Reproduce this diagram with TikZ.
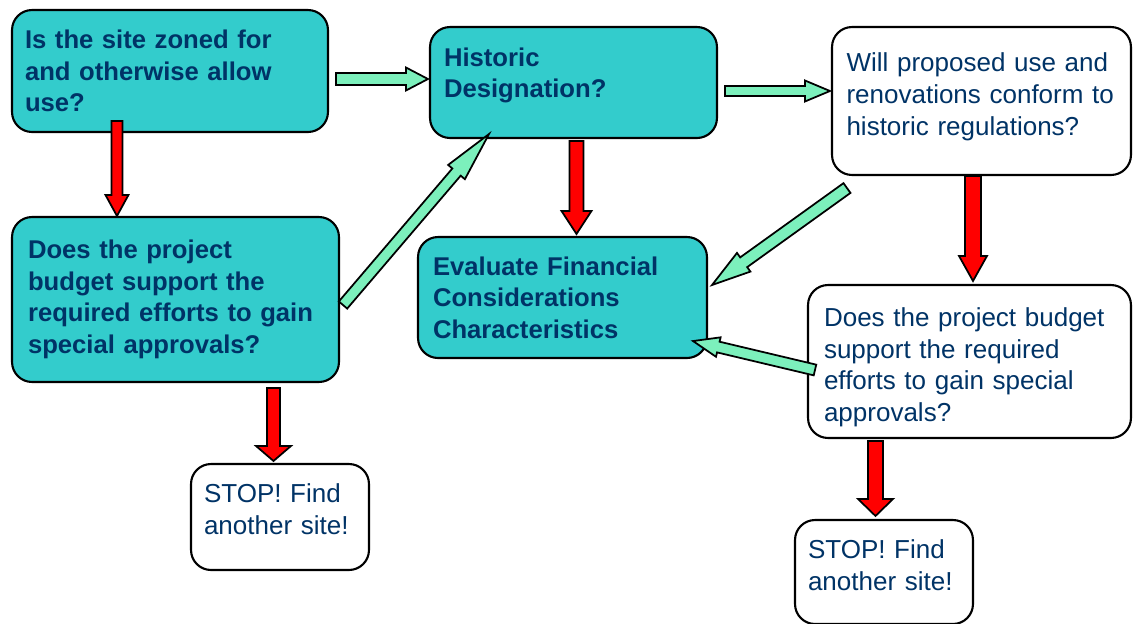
\documentclass[tikz,border=0pt]{standalone}
\usepackage{fontspec}
\setmainfont{Liberation Sans}
\usetikzlibrary{calc}

\definecolor{boxteal}{RGB}{51,204,204}
\definecolor{textblue}{RGB}{0,51,102}
\definecolor{arrowgreen}{RGB}{124,240,188}
\definecolor{arrowred}{RGB}{255,0,0}

% block arrow: fill, shaft half width, head half width, head length, from, to
\newcommand{\blockarrow}[6]{%
    \path #5 coordinate (ba-s) #6 coordinate (ba-e);
    \path ($(ba-e)!#4!(ba-s)$) coordinate (ba-h);
    \filldraw[fill=#1, draw=black, line width=1pt, line join=miter]
        ($(ba-s)!#2!90:(ba-e)$) -- ($(ba-h)!#2!90:(ba-e)$) -- ($(ba-h)!#3!90:(ba-e)$) -- (ba-e)
        -- ($(ba-h)!#3!-90:(ba-e)$) -- ($(ba-h)!#2!-90:(ba-e)$) -- ($(ba-s)!#2!-90:(ba-e)$) -- cycle;
}

\begin{document}
\begin{tikzpicture}[x=0.02cm, y=-0.02cm,
    box/.style={draw=black, line width=1.2pt, rounded corners=0.4cm, inner sep=0pt, align=left, text=textblue, font=\fontsize{14.8pt}{18pt}\selectfont},
    tealbox/.style={box, fill=boxteal, font=\fontsize{14.6pt}{18pt}\selectfont\bfseries},
    whitebox/.style={box, fill=white}]

    \useasboundingbox (0,0) rectangle (1133,623);

    % Boxes (pixel coordinates, y pointing down)
    \node[tealbox, minimum width=6.32cm, minimum height=2.44cm, text width=5.80cm] (zoned) at (170,71)
        {Is the site zoned for\\and otherwise allow\\use?};
    \node[tealbox, minimum width=5.74cm, minimum height=2.22cm, text width=5.18cm, text depth=29pt] (historic) at (573.5,82.5)
        {Historic\\Designation?};
    \node[whitebox, minimum width=5.98cm, minimum height=2.96cm, text width=5.40cm, text depth=44pt] (conform) at (981.5,101)
        {Will proposed use and\\renovations conform to\\historic regulations?};
    \node[tealbox, minimum width=6.54cm, minimum height=3.30cm, text width=5.90cm] (budget) at (175.5,299.5)
        {Does the project\\budget support the\\required efforts to gain\\special approvals?};
    \node[tealbox, minimum width=5.78cm, minimum height=2.42cm, text width=5.18cm] (financial) at (562.5,297.5)
        {Evaluate Financial\\Considerations\\Characteristics};
    \node[whitebox, minimum width=6.46cm, minimum height=3.06cm, text width=5.82cm, text height=17.3pt] (budgetb) at (969.5,361.5)
        {Does the project budget\\support the required\\efforts to gain special\\approvals?};
    \node[whitebox, minimum width=3.56cm, minimum height=2.12cm, text width=3.04cm, text depth=27pt] (stopa) at (280,517)
        {STOP! Find\\another site!};
    \node[whitebox, minimum width=3.56cm, minimum height=2.08cm, text width=3.04cm, text depth=26pt] (stopb) at (884,572)
        {STOP! Find\\another site!};

    % Green arrows (yes)
    \blockarrow{arrowgreen}{0.12cm}{0.23cm}{0.44cm}{($(zoned.east)+(7,8)$)}{($(historic.west)+(-1,-3.5)$)}
    \blockarrow{arrowgreen}{0.10cm}{0.21cm}{0.50cm}{($(historic.east)+(7,8.5)$)}{($(conform.west)+(-1,-10)$)}
    \blockarrow{arrowgreen}{0.11cm}{0.22cm}{1.00cm}{($(budget.east)+(3,5.5)$)}{($(historic.south west)+(60,-5)$)}
    \blockarrow{arrowgreen}{0.12cm}{0.23cm}{0.78cm}{($(conform.south west)+(16,12)$)}{($(financial.east)+(4,-12.5)$)}
    \blockarrow{arrowgreen}{0.11cm}{0.20cm}{0.52cm}{($(budgetb.west)+(8,8.5)$)}{($(financial.south east)+(-15,-18)$)}

    % Red arrows (no)
    \blockarrow{arrowred}{0.11cm}{0.23cm}{0.42cm}{($(zoned.south west)+(106,-12)$)}{($(budget.north west)+(106,0)$)}
    \blockarrow{arrowred}{0.14cm}{0.30cm}{0.46cm}{($(historic.south)+(3,2)$)}{($(financial.north)+(14,-2)$)}
    \blockarrow{arrowred}{0.16cm}{0.28cm}{0.50cm}{($(conform.south)+(-8.5,0)$)}{($(budgetb.north)+(3.5,-3)$)}
    \blockarrow{arrowred}{0.13cm}{0.35cm}{0.30cm}{($(budget.south)+(98,5)$)}{($(stopa.north)+(-6.5,-2)$)}
    \blockarrow{arrowred}{0.15cm}{0.35cm}{0.34cm}{($(budgetb.south)+(-94,2)$)}{($(stopb.north)+(-8.5,-3)$)}

\end{tikzpicture}
\end{document}
